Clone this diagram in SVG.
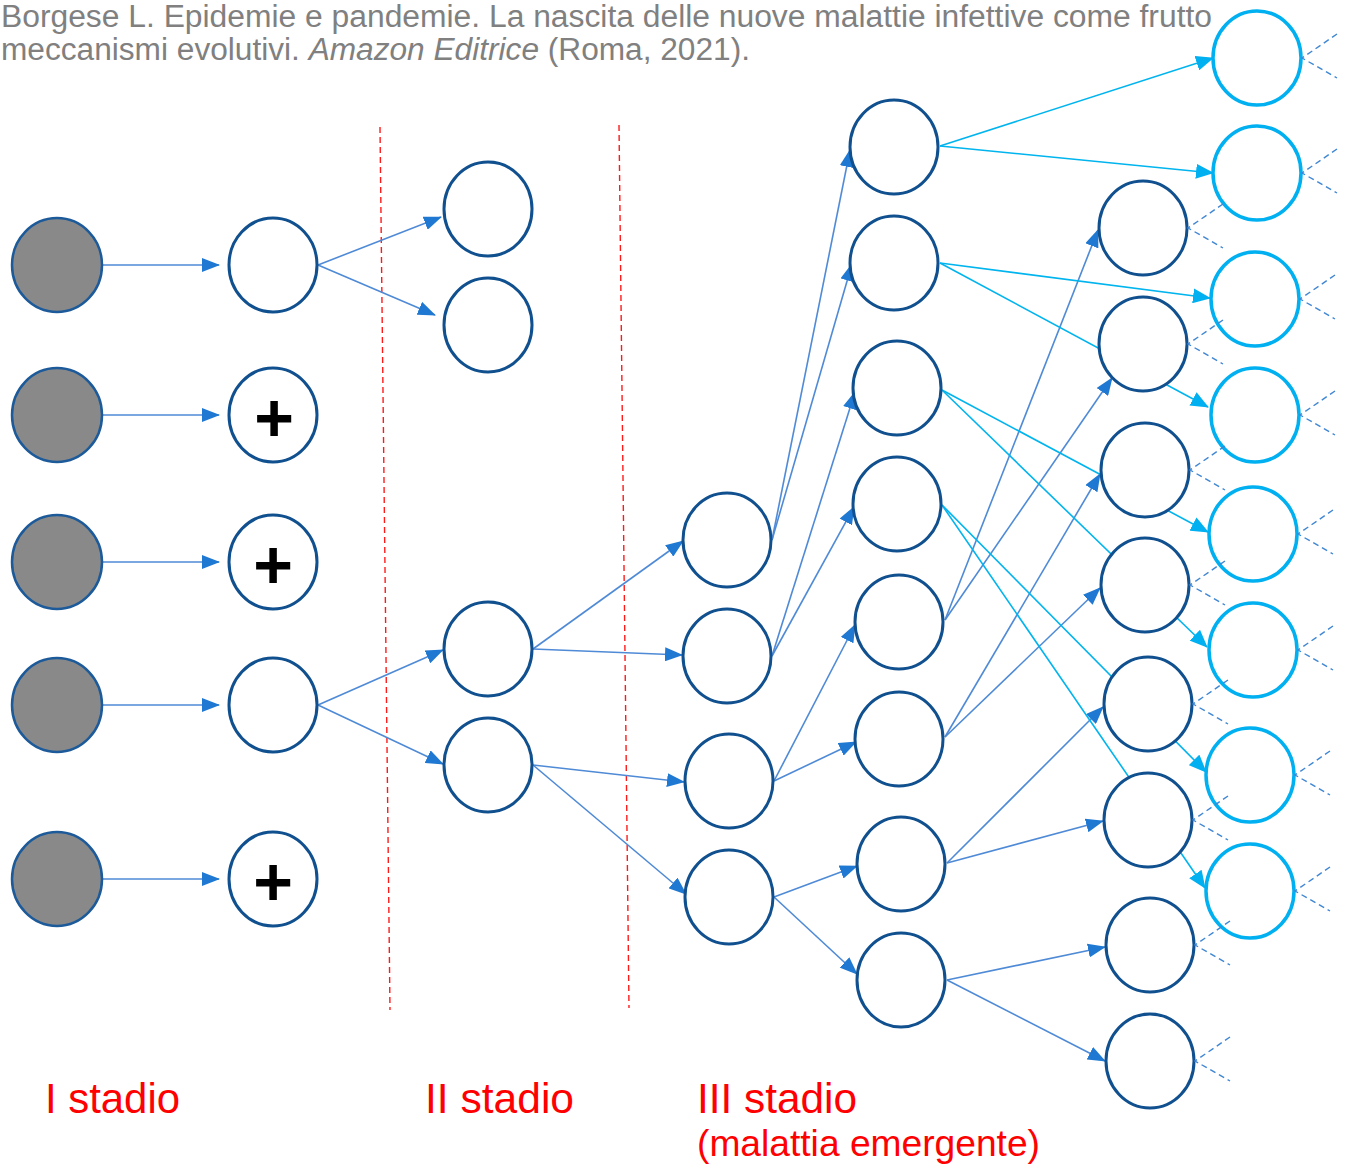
<svg xmlns="http://www.w3.org/2000/svg" width="1346" height="1166" viewBox="0 0 1346 1166">
<style>
.src{fill:#898989;stroke:#1c5a9a;stroke-width:2.5}
.nd{fill:#fff;stroke:#11508f;stroke-width:3}
.cy{fill:#fff;stroke:#00b0f0;stroke-width:3.5}
.ln{fill:none;stroke:#4f8ad6;stroke-width:1.6;marker-end:url(#ab)}
.lc{fill:none;stroke:#00b4ee;stroke-width:1.6;marker-end:url(#ac)}
.stub{fill:none;stroke:#3f86d4;stroke-width:1.4;stroke-dasharray:6 4}
.sep{fill:none;stroke:#ff1a1a;stroke-width:1.4;stroke-dasharray:6 4}
.hdr{font-family:"Liberation Sans",Arial,sans-serif;font-size:31px;fill:#808080}
.lab{font-family:"Liberation Sans",Arial,sans-serif;fill:#ff0000}
.plus{font-family:"Liberation Sans",Arial,sans-serif;font-weight:bold;font-size:68px;fill:#000;text-anchor:middle}
</style>
<defs>
<marker id="ab" markerUnits="userSpaceOnUse" markerWidth="18" markerHeight="14" refX="17" refY="7" orient="auto" viewBox="0 0 18 14"><path d="M0,0 L18,7 L0,14 z" fill="#1f78d1"/></marker>
<marker id="ac" markerUnits="userSpaceOnUse" markerWidth="18" markerHeight="15" refX="17" refY="7.5" orient="auto" viewBox="0 0 18 15"><path d="M0,0 L18,7.5 L0,15 z" fill="#00b0f0"/></marker>
</defs>
<rect width="1346" height="1166" fill="#fff"/>

<g id="header">
<text class="hdr" x="1" y="27" textLength="1211" lengthAdjust="spacingAndGlyphs">Borgese L. Epidemie e pandemie. La nascita delle nuove malattie infettive come frutto</text>
<text class="hdr" x="1" y="60" textLength="749" lengthAdjust="spacingAndGlyphs">meccanismi evolutivi. <tspan font-style="italic">Amazon Editrice</tspan> (Roma, 2021).</text>
</g>

<g id="separators">
<line class="sep" x1="380" y1="127" x2="390" y2="1010"/>
<line class="sep" x1="619" y1="125" x2="629" y2="1008"/>
</g>

<g id="connectors">
<path class="ln" d="M102,265 L219,265"/>
<path class="ln" d="M102,415 L219,415"/>
<path class="ln" d="M102,562 L219,562"/>
<path class="ln" d="M102,705 L219,705"/>
<path class="ln" d="M102,879 L219,879"/>

<path class="ln" d="M318,265 L441,217"/>
<path class="ln" d="M318,265 L435,315"/>
<path class="ln" d="M318,705 L443,650"/>
<path class="ln" d="M318,705 L443,764"/>

<path class="ln" d="M533,649 L683,541"/>
<path class="ln" d="M533,649 L682,655"/>
<path class="ln" d="M533,765 L684,782"/>
<path class="ln" d="M533,765 L686,894"/>

<path class="ln" d="M772,540 L850,150"/>
<path class="ln" d="M772,540 L852,264"/>
<path class="ln" d="M772,656 L855,392"/>
<path class="ln" d="M772,656 L854,507"/>
<path class="ln" d="M774,781 L855,625"/>
<path class="ln" d="M774,781 L856,742"/>
<path class="ln" d="M774,897 L857,866"/>
<path class="ln" d="M774,897 L857,974"/>

<path class="ln" d="M945,620 L1098,230"/>
<path class="ln" d="M945,620 L1112,378"/>
<path class="ln" d="M945,737 L1100,474"/>
<path class="ln" d="M945,737 L1100,588"/>
<path class="ln" d="M947,863 L1103,707"/>
<path class="ln" d="M947,863 L1103,821"/>
<path class="ln" d="M947,980 L1105,947"/>
<path class="ln" d="M947,980 L1105,1061"/>

<path class="lc" d="M940,146 L1213,58"/>
<path class="lc" d="M940,146 L1213,173"/>
<path class="lc" d="M940,263 L1210,298"/>
<path class="lc" d="M940,263 L1208,407"/>
<path class="lc" d="M942,390 L1208,532"/>
<path class="lc" d="M942,390 L1207,647"/>
<path class="lc" d="M942,505 L1206,772"/>
<path class="lc" d="M942,505 L1205,888"/>
</g>

<g id="nodes">
<g id="s1"><ellipse class="src" cx="57" cy="265" rx="45" ry="47"/></g>
<g id="s2"><ellipse class="src" cx="57" cy="415" rx="45" ry="47"/></g>
<g id="s3"><ellipse class="src" cx="57" cy="562" rx="45" ry="47"/></g>
<g id="s4"><ellipse class="src" cx="57" cy="705" rx="45" ry="47"/></g>
<g id="s5"><ellipse class="src" cx="57" cy="879" rx="45" ry="47"/></g>

<g id="a1"><ellipse class="nd" cx="273" cy="265" rx="44" ry="47"/></g>
<g id="a2"><ellipse class="nd" cx="273" cy="415" rx="44" ry="47"/><text class="plus" x="274" y="441">+</text></g>
<g id="a3"><ellipse class="nd" cx="273" cy="562" rx="44" ry="47"/><text class="plus" x="273" y="588">+</text></g>
<g id="a4"><ellipse class="nd" cx="273" cy="705" rx="44" ry="47"/></g>
<g id="a5"><ellipse class="nd" cx="273" cy="879" rx="44" ry="47"/><text class="plus" x="273" y="905">+</text></g>

<g id="b1"><ellipse class="nd" cx="488" cy="209" rx="44" ry="47"/></g>
<g id="b2"><ellipse class="nd" cx="488" cy="325" rx="44" ry="47"/></g>
<g id="b3"><ellipse class="nd" cx="488" cy="649" rx="44" ry="47"/></g>
<g id="b4"><ellipse class="nd" cx="488" cy="765" rx="44" ry="47"/></g>

<g id="c1"><ellipse class="nd" cx="727" cy="540" rx="44" ry="47"/></g>
<g id="c2"><ellipse class="nd" cx="727" cy="656" rx="44" ry="47"/></g>
<g id="c3"><ellipse class="nd" cx="729" cy="781" rx="44" ry="47"/></g>
<g id="c4"><ellipse class="nd" cx="729" cy="897" rx="44" ry="47"/></g>

<g id="d1"><ellipse class="nd" cx="894" cy="147" rx="44" ry="47"/></g>
<g id="d2"><ellipse class="nd" cx="894" cy="263" rx="44" ry="47"/></g>
<g id="d3"><ellipse class="nd" cx="897" cy="388" rx="44" ry="47"/></g>
<g id="d4"><ellipse class="nd" cx="897" cy="504" rx="44" ry="47"/></g>
<g id="d5"><ellipse class="nd" cx="899" cy="622" rx="44" ry="47"/></g>
<g id="d6"><ellipse class="nd" cx="899" cy="739" rx="44" ry="47"/></g>
<g id="d7"><ellipse class="nd" cx="901" cy="864" rx="44" ry="47"/></g>
<g id="d8"><ellipse class="nd" cx="901" cy="980" rx="44" ry="47"/></g>

<g id="e1"><ellipse class="nd" cx="1143" cy="228" rx="44" ry="47"/></g>
<g id="e2"><ellipse class="nd" cx="1143" cy="344" rx="44" ry="47"/></g>
<g id="e3"><ellipse class="nd" cx="1145" cy="470" rx="44" ry="47"/></g>
<g id="e4"><ellipse class="nd" cx="1145" cy="585" rx="44" ry="47"/></g>
<g id="e5"><ellipse class="nd" cx="1148" cy="704" rx="44" ry="47"/></g>
<g id="e6"><ellipse class="nd" cx="1148" cy="820" rx="44" ry="47"/></g>
<g id="e7"><ellipse class="nd" cx="1150" cy="945" rx="44" ry="47"/></g>
<g id="e8"><ellipse class="nd" cx="1150" cy="1061" rx="44" ry="47"/></g>

<g id="f1"><ellipse class="cy" cx="1257" cy="58" rx="44" ry="47"/></g>
<g id="f2"><ellipse class="cy" cx="1257" cy="173" rx="44" ry="47"/></g>
<g id="f3"><ellipse class="cy" cx="1255" cy="299" rx="44" ry="47"/></g>
<g id="f4"><ellipse class="cy" cx="1255" cy="415" rx="44" ry="47"/></g>
<g id="f5"><ellipse class="cy" cx="1253" cy="534" rx="44" ry="47"/></g>
<g id="f6"><ellipse class="cy" cx="1253" cy="650" rx="44" ry="47"/></g>
<g id="f7"><ellipse class="cy" cx="1250" cy="775" rx="44" ry="47"/></g>
<g id="f8"><ellipse class="cy" cx="1250" cy="891" rx="44" ry="47"/></g>
</g>

<g id="stubs">
<path class="stub" d="M1223,204 L1188,228 L1223,248"/>
<path class="stub" d="M1223,320 L1188,344 L1223,364"/>
<path class="stub" d="M1225,446 L1190,470 L1225,490"/>
<path class="stub" d="M1225,561 L1190,585 L1225,605"/>
<path class="stub" d="M1228,680 L1193,704 L1228,724"/>
<path class="stub" d="M1228,796 L1193,820 L1228,840"/>
<path class="stub" d="M1230,921 L1195,945 L1230,965"/>
<path class="stub" d="M1230,1037 L1195,1061 L1230,1081"/>

<path class="stub" d="M1337,34 L1302,58 L1337,78"/>
<path class="stub" d="M1337,149 L1302,173 L1337,193"/>
<path class="stub" d="M1335,275 L1300,299 L1335,319"/>
<path class="stub" d="M1335,391 L1300,415 L1335,435"/>
<path class="stub" d="M1333,510 L1298,534 L1333,554"/>
<path class="stub" d="M1333,626 L1298,650 L1333,670"/>
<path class="stub" d="M1330,751 L1295,775 L1330,795"/>
<path class="stub" d="M1330,867 L1295,891 L1330,911"/>
</g>

<g id="labels">
<text class="lab" x="45" y="1113" font-size="43" textLength="135" lengthAdjust="spacingAndGlyphs">I stadio</text>
<text class="lab" x="425" y="1113" font-size="43" textLength="149" lengthAdjust="spacingAndGlyphs">II stadio</text>
<text class="lab" x="697" y="1113" font-size="43" textLength="160" lengthAdjust="spacingAndGlyphs">III stadio</text>
<text class="lab" x="697" y="1156" font-size="37" textLength="343" lengthAdjust="spacingAndGlyphs">(malattia emergente)</text>
</g>
</svg>
